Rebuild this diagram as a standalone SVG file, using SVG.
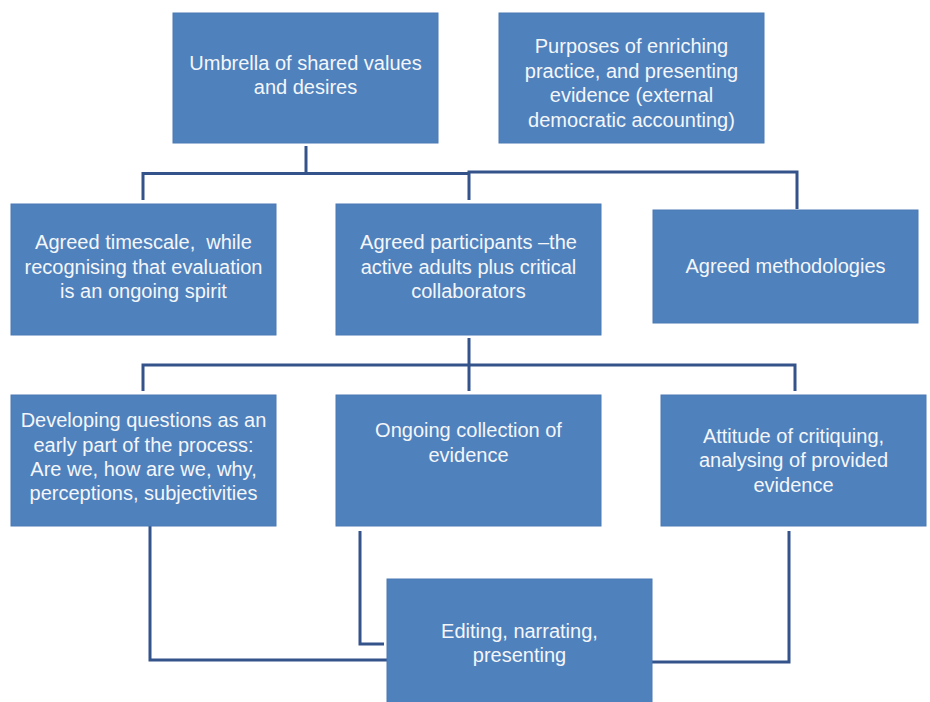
<svg xmlns="http://www.w3.org/2000/svg" width="930" height="702" viewBox="0 0 930 702">
<style>
.box{fill:#4f81bd;stroke:#4a7bb5;stroke-width:1}
.t{font-family:"Liberation Sans",Arial,sans-serif;font-size:20px;fill:#f4f6f9;text-anchor:middle}
.c{fill:none;stroke:#34538a;stroke-width:3}
</style>
<rect width="930" height="702" fill="#ffffff"/>
<g id="connectors">
<path class="c" d="M306,146 V173"/>
<path class="c" d="M143,200 V173.5 H469"/>
<path class="c" d="M469,200 V172 H797 V209"/>
<path class="c" d="M469,338 V365"/>
<path class="c" d="M143,391 V365 H795 V391"/>
<path class="c" d="M469,365 V391"/>
<path class="c" d="M150,523 V660 H392"/>
<path class="c" d="M360,531 V644 H384"/>
<path class="c" d="M789,531 V662 H650 V677"/>
</g>
<g id="umbrella">
<rect class="box" x="173" y="13" width="265" height="130"/>
<text class="t" x="305.5" y="70">Umbrella of shared values</text>
<text class="t" x="305.5" y="94">and desires</text>
</g>
<g id="purposes">
<rect class="box" x="499" y="13" width="265" height="130"/>
<text class="t" x="631.5" y="53">Purposes of enriching</text>
<text class="t" x="631.5" y="78">practice, and presenting</text>
<text class="t" x="631.5" y="102">evidence (external</text>
<text class="t" x="631.5" y="127">democratic accounting)</text>
</g>
<g id="timescale">
<rect class="box" x="11" y="204" width="265" height="131"/>
<text class="t" x="143.5" y="249" xml:space="preserve">Agreed timescale,  while</text>
<text class="t" x="143.5" y="274">recognising that evaluation</text>
<text class="t" x="143.5" y="298">is an ongoing spirit</text>
</g>
<g id="participants">
<rect class="box" x="336" y="204" width="265" height="131"/>
<text class="t" x="468.5" y="249">Agreed participants –the</text>
<text class="t" x="468.5" y="274">active adults plus critical</text>
<text class="t" x="468.5" y="298">collaborators</text>
</g>
<g id="methodologies">
<rect class="box" x="653" y="210" width="265" height="113"/>
<text class="t" x="785.5" y="273">Agreed methodologies</text>
</g>
<g id="developing">
<rect class="box" x="11" y="395" width="265" height="131"/>
<text class="t" x="143.5" y="427">Developing questions as an</text>
<text class="t" x="143.5" y="452">early part of the process:</text>
<text class="t" x="143.5" y="476">Are we, how are we, why,</text>
<text class="t" x="143.5" y="500">perceptions, subjectivities</text>
</g>
<g id="ongoing">
<rect class="box" x="336" y="395" width="265" height="131"/>
<text class="t" x="468.5" y="437">Ongoing collection of</text>
<text class="t" x="468.5" y="462">evidence</text>
</g>
<g id="attitude">
<rect class="box" x="661" y="395" width="265" height="131"/>
<text class="t" x="793.5" y="443">Attitude of critiquing,</text>
<text class="t" x="793.5" y="467">analysing of provided</text>
<text class="t" x="793.5" y="492">evidence</text>
</g>
<g id="editing">
<rect class="box" x="387" y="579" width="265" height="124"/>
<text class="t" x="519.5" y="638">Editing, narrating,</text>
<text class="t" x="519.5" y="662">presenting</text>
</g>
</svg>
